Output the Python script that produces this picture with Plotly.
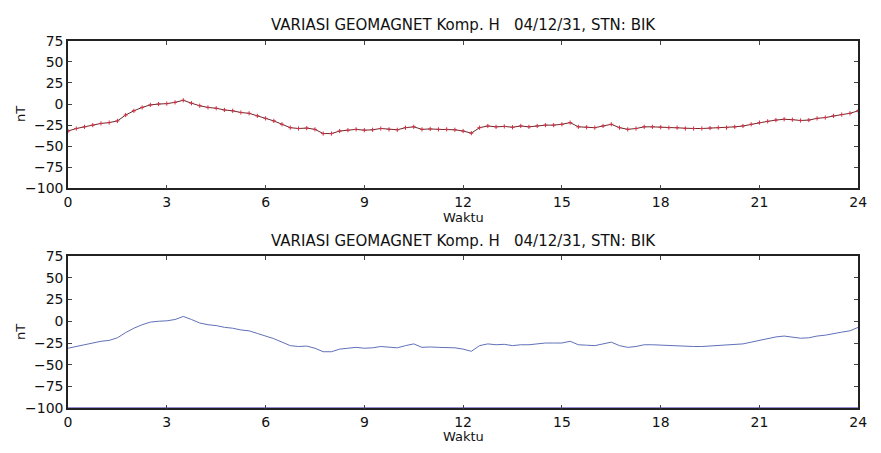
import plotly.graph_objects as go

hours = [i * 0.25 for i in range(97)]
h_comp = [
    -32, -29, -27, -25, -23, -22, -20, -13, -8, -4, -1, 0, 0.5, 2, 4.5, 1,
    -2, -4, -5, -7, -8, -10, -11, -14, -17, -20, -24, -28, -29, -28.5, -30, -35,
    -35, -32, -31, -30, -31, -30.5, -29, -30, -30.5, -28, -27, -30, -29.5, -30, -30, -30.5,
    -32, -34.5, -28, -26, -27, -26.5, -27.5, -26, -27, -26, -25, -25, -24, -22, -27, -27.5,
    -28, -26, -24, -28, -30, -29, -27, -27, -27.5, -28, -28, -29, -29, -29, -28.5, -28,
    -28, -27, -26, -24, -22, -20.5, -19, -18, -18.5, -19.5, -19, -17, -16, -14, -12.5, -11,
    -8,
]
h_comp_b = [
    -31, -29, -27, -25, -23, -22, -19, -13, -8, -4, -1, 0, 0.5, 2, 5.5, 2,
    -2, -4, -5, -7, -8, -10, -11, -14, -17, -20, -24, -28, -29, -28.5, -31, -35,
    -35, -32, -31, -30, -31, -30.5, -29, -30, -30.5, -28, -26, -30, -29.5, -30, -30, -30.5,
    -32, -34.5, -28, -26, -27, -26.5, -28, -27, -27, -26, -25, -25, -25, -23, -27, -27.5,
    -28, -26, -24, -28, -30, -29, -27, -27, -27.5, -28, -28, -29, -29, -29, -28.5, -28,
    -27, -27, -26, -24, -22, -20.5, -18, -17, -18.5, -19.5, -19, -17, -16, -14, -12.5, -11,
    -7,
]
baseline_b = [-100] * 97

title_text = "VARIASI GEOMAGNET Komp. H   04/12/31, STN: BIK"
x_ticks = [0, 3, 6, 9, 12, 15, 18, 21, 24]
y_ticks = [75, 50, 25, 0, -25, -50, -75, -100]

FONT = "DejaVu Sans, Arial, sans-serif"

fig = go.Figure()
fig.add_trace(go.Scatter(
    x=hours, y=h_comp, mode="lines+markers", xaxis="x", yaxis="y",
    line=dict(color="#6a2a30", width=1),
    marker=dict(symbol="cross-thin", size=3, line=dict(color="#d03040", width=1)),
    showlegend=False,
))
fig.add_trace(go.Scatter(
    x=hours, y=baseline_b, mode="lines", xaxis="x2", yaxis="y2",
    line=dict(color="#9a8cd0", width=2.5), showlegend=False,
))
fig.add_trace(go.Scatter(
    x=hours, y=h_comp_b, mode="lines", xaxis="x2", yaxis="y2",
    line=dict(color="#6070b8", width=1), showlegend=False,
))

W, H = 881, 453
xdom = [65 / W, 867 / W]
ydom1 = [1 - 187 / H, 1 - 34 / H]
ydom2 = [1 - 415 / H, 1 - 257 / H]

axis_common = dict(
    showline=True, linecolor="#222", linewidth=1.5, mirror="ticks",
    ticks="inside", ticklen=4, tickcolor="#444", showgrid=False, zeroline=False,
    tickfont=dict(family=FONT, size=14, color="#111"),
)

fig.update_layout(
    width=W, height=H, margin=dict(l=0, r=0, t=0, b=0),
    paper_bgcolor="white", plot_bgcolor="white",
    xaxis=dict(domain=xdom, anchor="y", range=[0, 24], tickvals=x_ticks, **axis_common),
    yaxis=dict(domain=ydom1, anchor="x", range=[-100, 75], tickvals=y_ticks, **axis_common),
    xaxis2=dict(domain=xdom, anchor="y2", range=[0, 24], tickvals=x_ticks, **axis_common),
    yaxis2=dict(domain=ydom2, anchor="x2", range=[-100, 75], tickvals=y_ticks, **axis_common),
)

cx = (xdom[0] + xdom[1]) / 2
title_font = dict(family=FONT, size=15, color="#111")
ann_font = dict(family=FONT, size=13, color="#111")
for ypx in (18, 242):
    fig.add_annotation(text=title_text, x=cx, y=1 - ypx / H, xref="paper", yref="paper",
                       showarrow=False, font=title_font, xanchor="center", yanchor="middle")
for ypx in (217, 444):
    fig.add_annotation(text="Waktu", x=cx, y=1 - ypx / H, xref="paper", yref="paper",
                       showarrow=False, font=ann_font, xanchor="center", yanchor="middle")
for ypx in (110, 336):
    fig.add_annotation(text="nT", x=16 / W, y=1 - ypx / H, xref="paper", yref="paper",
                       showarrow=False, font=ann_font, textangle=-90,
                       xanchor="center", yanchor="middle")

fig.write_html("out.html")
